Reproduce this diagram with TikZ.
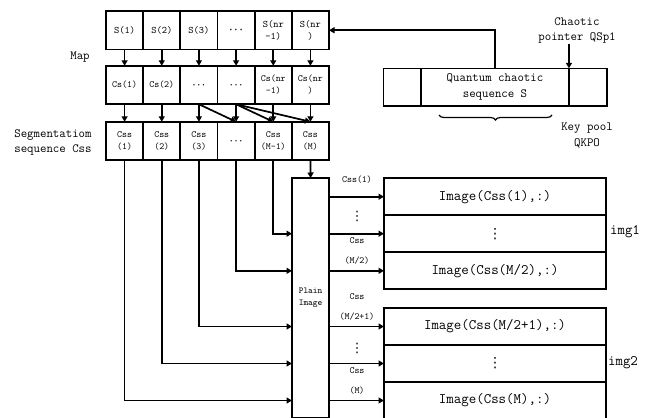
\documentclass[tikz,border=0pt]{standalone}
\usepackage{fontspec}
\newfontfamily\dejavu{DejaVu Sans}
\usetikzlibrary{arrows.meta,decorations.pathreplacing,calc}
\newcommand{\fs}[2]{\fontsize{#1}{#2}\selectfont}
\newcommand{\hdots}{{\boldmath$\cdots$}}
\newcommand{\vdts}{{\dejavu ⋮}}
\begin{document}
\begin{tikzpicture}[x=1pt,y=-1pt,
  font=\ttfamily,
  every node/.style={inner sep=0pt, outer sep=0pt},
  cell/.style={draw, line width=1.7pt, minimum width=37.17pt, minimum height=38.5pt, align=center},
  imgbox/.style={draw, line width=1.7pt, minimum width=222pt, minimum height=37pt},
  imgtxt/.style={font=\ttfamily\fs{14.5}{16}},
  lbl/.style={align=center},
  arr/.style={line width=1.7pt, -{Triangle[length=5.5pt,width=6pt]}},
  ln/.style={line width=1.7pt}]
\useasboundingbox (0,0) rectangle (654,418);
% row 1
\foreach \i/\t in {1/S(1),2/S(2),3/S(3),4/\hdots,5/{S(nr\\-1)},6/{S(nr\\)}}{
  \node[cell, font=\ttfamily\fs{10}{12.3}] (r1\i) at ({106+37.17*(\i-0.5)},30.25) {\t};
}
% row 2
\foreach \i/\t in {1/Cs(1),2/Cs(2),3/\hdots,4/\hdots,5/{Cs(nr\\-1)},6/{Cs(nr\\)}}{
  \node[cell, font=\ttfamily\fs{9.5}{12}] (r2\i) at ({106+37.17*(\i-0.5)},85) {\t};
}
% row 3
\foreach \i/\t in {1/{Css\\(1)},2/{Css\\(2)},3/{Css\\(3)},4/\hdots,5/{Css\\(M-1)},6/{Css\\(M)}}{
  \node[cell, font=\ttfamily\fs{9.5}{11.7}] (r3\i) at ({106+37.17*(\i-0.5)},141) {\t};
}
\foreach \i in {1,...,6}{
  \draw[arr] (r1\i.south) -- (r2\i.north);
  \draw[arr] (r2\i.south) -- (r3\i.north);
}
\draw[arr] (r23.south) -- (r34.north);
\draw[arr] (r24.south) -- (r35.north);
\draw[arr] (r24.south) -- (r36.north);
% left labels
\node[font=\ttfamily\fs{12.5}{15}] (map) at (80,57) {Map};
\node[lbl, font=\ttfamily\fs{12.5}{15}] (seg) at (53,142) {Segmentatiom\\sequence Css};
% key pool
\node[cell, minimum width=37.7pt, minimum height=37.7pt] (kpL) at (402.2,87.2) {};
\node[cell, minimum width=148pt, minimum height=37.7pt] (kpM) at (495,87.2) {};
\node[lbl, font=\ttfamily\fs{12.5}{15.5}] (kpt) at (kpM) {Quantum chaotic\\sequence S};
\node[cell, minimum width=37.7pt, minimum height=37.7pt] (kpR) at (587.8,87.2) {};
\draw[arr] (kpM.north) |- (r16.east);
\node[lbl, font=\ttfamily\fs{12.5}{15.5}] (ptr) at (577,30.5) {Chaotic\\pointer QSp1};
\draw[arr] (ptr.south -| kpR.north west) -- (kpR.north west);
\draw[line width=1.2pt, decorate, decoration={brace, mirror, amplitude=5pt}] (439,115) -- (552,115);
\node[lbl, font=\ttfamily\fs{12.5}{15.5}] (kp) at (587,135.5) {Key pool\\QKPO};
% plain image
\node[cell, minimum height=240pt, font=\ttfamily\fs{9}{12.5}] (plain) at (310.6,298) {Plain\\Image};
\draw[arr] (r36.south) -- (plain.north);
% image boxes
\node[imgbox] (i1) at (495,196.7) {};
\node[imgbox] (i2) at (495,233.7) {};
\node[imgbox] (i3) at (495,270.8) {};
\node[imgbox] (i4) at (495,326.5) {};
\node[imgbox] (i5) at (495,363.5) {};
\node[imgbox] (i6) at (495,400.5) {};
\node[imgtxt] (t1) at (i1) {Image(Css(1),:)};
\node[font=\fs{14}{16}] (t2) at (i2) {\vdts};
\node[imgtxt] (t3) at (i3) {Image(Css(M/2),:)};
\node[imgtxt] (t4) at (i4) {Image(Css(M/2+1),:)};
\node[font=\fs{14}{16}] (t5) at (i5) {\vdts};
\node[imgtxt] (t6) at (i6) {Image(Css(M),:)};
\node[imgtxt] (img1) at (625,232) {img1};
\node[imgtxt] (img2) at (623,363) {img2};
\foreach \k in {1,...,6}{
  \draw[arr] (plain.east |- i\k.west) -- (i\k.west);
}
% left feed lines
\draw[arr] (r35.south) |- (plain.west |- i2.west);
\draw[arr] (r34.south) |- (plain.west |- i3.west);
\draw[arr] (r33.south) |- (plain.west |- i4.west);
\draw[arr] (r32.south) |- (plain.west |- i5.west);
\draw[arr] (r31.south) |- (plain.west |- i6.west);
% arrow labels
\begin{scope}[every node/.append style={font=\ttfamily\fs{9.5}{12}}]
\node (a1) at (357,180) {Css(1)};
\node[font=\fs{13}{15}] (a2) at (357,216) {\vdts};
\node (a3) at (357,241) {Css};
\node (a4) at (357,261) {(M/2)};
\node (a5) at (357,297) {Css};
\node (a6) at (357,317) {(M/2+1)};
\node[font=\fs{13}{15}] (a7) at (357,348) {\vdts};
\node (a8) at (357,371) {Css};
\node (a9) at (357,391) {(M)};
\end{scope}
\end{tikzpicture}
\end{document}
